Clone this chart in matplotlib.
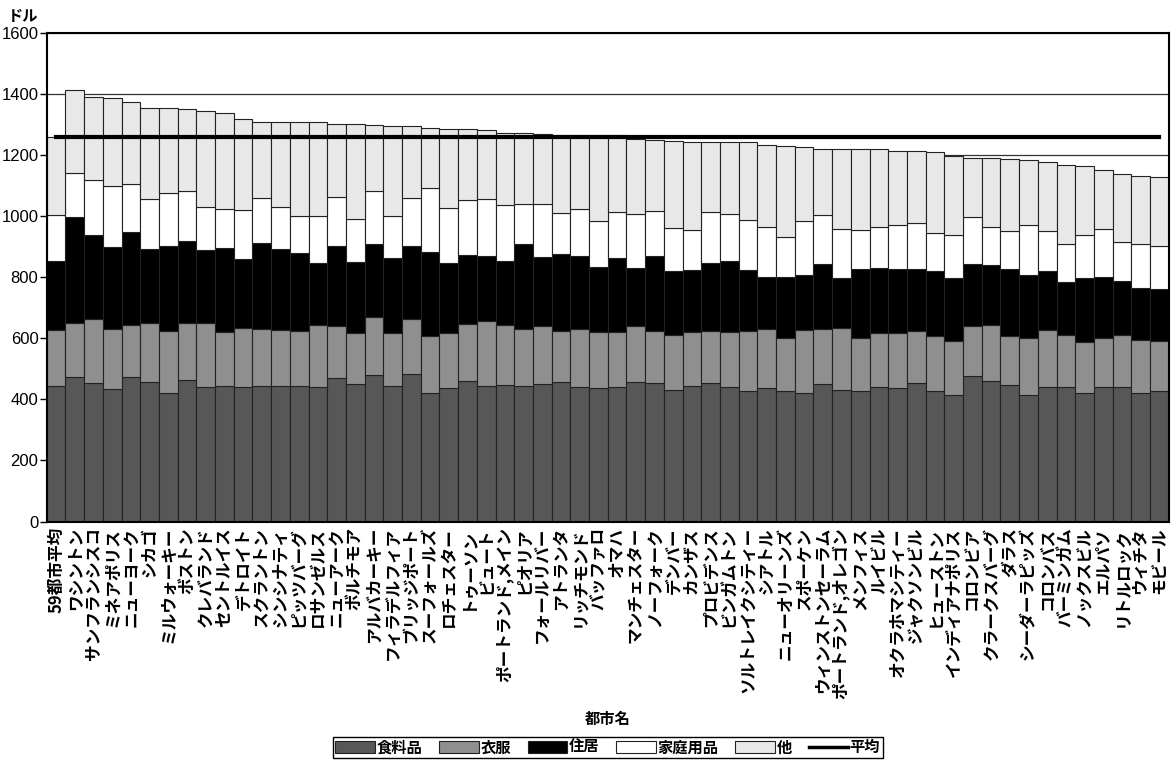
import matplotlib
matplotlib.use("Agg")
import matplotlib.pyplot as plt
from matplotlib.patches import Patch
from matplotlib.lines import Line2D
import numpy as np

plt.rcParams['font.family'] = ['Noto Sans CJK JP', 'DejaVu Sans']

# cities (sorted by total cost)
cities = ["59都市平均", "ワシントン", "サンフランシスコ", "ミネアポリス", "ニューヨーク",
          "シカゴ", "ミルウォーキー", "ボストン", "クレバランド", "セントルイス",
          "デトロイト", "スクラントン", "シンシナティ", "ピッツバーグ", "ロサンゼルス",
          "ニューアーク", "ボルチモア", "アルバカーキー", "フィラデルフィア", "ブリッジポート",
          "スーフォールズ", "ロチェスター", "トゥーソン", "ビュート", "ポートランド,メイン",
          "ピオリア", "フォールリバー", "アトランタ", "リッチモンド", "バッファロ",
          "オマハ", "マンチェスター", "ノーフォーク", "デンバー", "カンザス",
          "プロビデンス", "ビンガムトン", "ソルトレイクシティー", "シアトル", "ニューオリーンズ",
          "スポーケン", "ウィンストンセーラム", "ポートランド,オレゴン", "メンフィス", "ルイビル",
          "オクラホマシティー", "ジャクソンビル", "ヒューストン", "インディアナポリス", "コロンビア",
          "クラークスバーグ", "ダラス", "シーダーラピッズ", "コロンバス", "バーミンガム",
          "ノックスビル", "エルパソ", "リトルロック", "ウィチタ", "モビール"]

food = [444, 472, 455, 433, 472, 457, 422, 464, 442, 444,
        442, 444, 445, 444, 439, 469, 450, 481, 444, 483,
        420, 436, 460, 444, 446, 444, 450, 458, 442, 436,
        440, 458, 453, 431, 444, 455, 442, 428, 436, 428,
        422, 451, 431, 428, 439, 436, 455, 428, 415, 477,
        460, 447, 415, 442, 442, 420, 439, 440, 422, 429]
clothing = [184, 177, 208, 197, 172, 192, 203, 187, 207, 178,
            191, 187, 183, 181, 203, 170, 167, 190, 173, 180,
            188, 181, 186, 213, 196, 188, 189, 167, 189, 184,
            182, 181, 172, 180, 178, 169, 179, 196, 194, 172,
            206, 179, 202, 172, 178, 183, 170, 178, 177, 164,
            184, 161, 185, 186, 169, 169, 163, 171, 173, 163]
housing = [224, 348, 274, 269, 304, 245, 276, 268, 239, 273,
           227, 281, 263, 253, 204, 263, 232, 238, 245, 238,
           276, 231, 227, 214, 210, 277, 227, 252, 240, 213,
           240, 191, 243, 208, 202, 222, 231, 200, 172, 202,
           178, 213, 164, 226, 213, 209, 203, 215, 205, 203,
           196, 220, 206, 194, 172, 209, 200, 177, 169, 169]
household = [152, 146, 180, 201, 156, 163, 175, 164, 142, 128,
             160, 147, 138, 124, 155, 160, 143, 172, 137, 158,
             208, 179, 180, 185, 184, 132, 175, 135, 154, 151,
             151, 178, 150, 142, 131, 167, 156, 164, 164, 129,
             179, 162, 162, 129, 133, 144, 151, 123, 140, 152,
             126, 124, 166, 128, 126, 139, 156, 126, 145, 140]
other = [255, 270, 273, 287, 271, 298, 277, 268, 316, 316,
         297, 251, 280, 307, 306, 240, 310, 216, 297, 235,
         198, 258, 232, 225, 238, 233, 229, 255, 242, 281,
         252, 244, 232, 284, 289, 231, 234, 254, 266, 300,
         241, 215, 261, 265, 256, 243, 236, 265, 261, 194,
         223, 235, 213, 229, 258, 228, 194, 224, 221, 227]
avg_total = 1259

series = [("食料品", food, "#575757"),
          ("衣服", clothing, "#8f8f8f"),
          ("住居", housing, "#000000"),
          ("家庭用品", household, "#ffffff"),
          ("他", other, "#e8e8e8")]

fig = plt.figure(figsize=(11.74, 7.6), dpi=100)
ax = fig.add_axes([0.0398, 0.3138, 0.9557, 0.6428])

x = np.arange(len(cities))
bottom = np.zeros(len(cities))
for name, vals, col in series:
    ax.bar(x, vals, width=1.0, bottom=bottom, color=col, edgecolor="#222222",
           linewidth=0.8, zorder=2)
    bottom += np.array(vals)

ax.plot(x, [avg_total] * len(cities), color="black", lw=3, zorder=3)

ax.set_xlim(-0.5, len(cities) - 0.5)
ax.set_ylim(0, 1600)
ax.set_yticks(range(0, 1601, 200))
ax.yaxis.grid(True, color="#333333", lw=0.9)
ax.set_axisbelow(True)
for s in ax.spines.values():
    s.set_linewidth(1.5)
    s.set_color("black")

ax.set_xticks(x)
ax.set_xticklabels(cities, rotation=90, fontsize=12, fontweight="bold")
ax.tick_params(axis="x", length=0, pad=4)
ax.tick_params(axis="y", length=5, width=1, pad=1)
for t in ax.get_yticklabels():
    t.set_family(["Liberation Sans", "DejaVu Sans"])
    t.set_fontsize(12)

ax.set_xlabel("都市名", fontsize=11, fontweight="bold", labelpad=9)
fig.text(0.007, 0.990, "ドル", fontsize=11, fontweight="bold", va="top", ha="left")

handles = [Patch(facecolor=c, edgecolor="#222222", linewidth=0.8) for _, _, c in series]
handles.append(Line2D([0], [0], color="black", lw=2.5))
labels = [n for n, _, _ in series] + ["平均"]
leg = fig.legend(handles, labels, loc="lower center", bbox_to_anchor=(0.5177, -0.007),
                 ncol=6, frameon=True, fancybox=False, edgecolor="black", framealpha=1,
                 borderpad=0.15, handlelength=2.6, handleheight=0.8, columnspacing=1.1,
                 handletextpad=0.1, prop={"size": 11, "weight": "bold"})
leg.get_frame().set_linewidth(1.0)

fig.savefig("out.png", dpi=100)
